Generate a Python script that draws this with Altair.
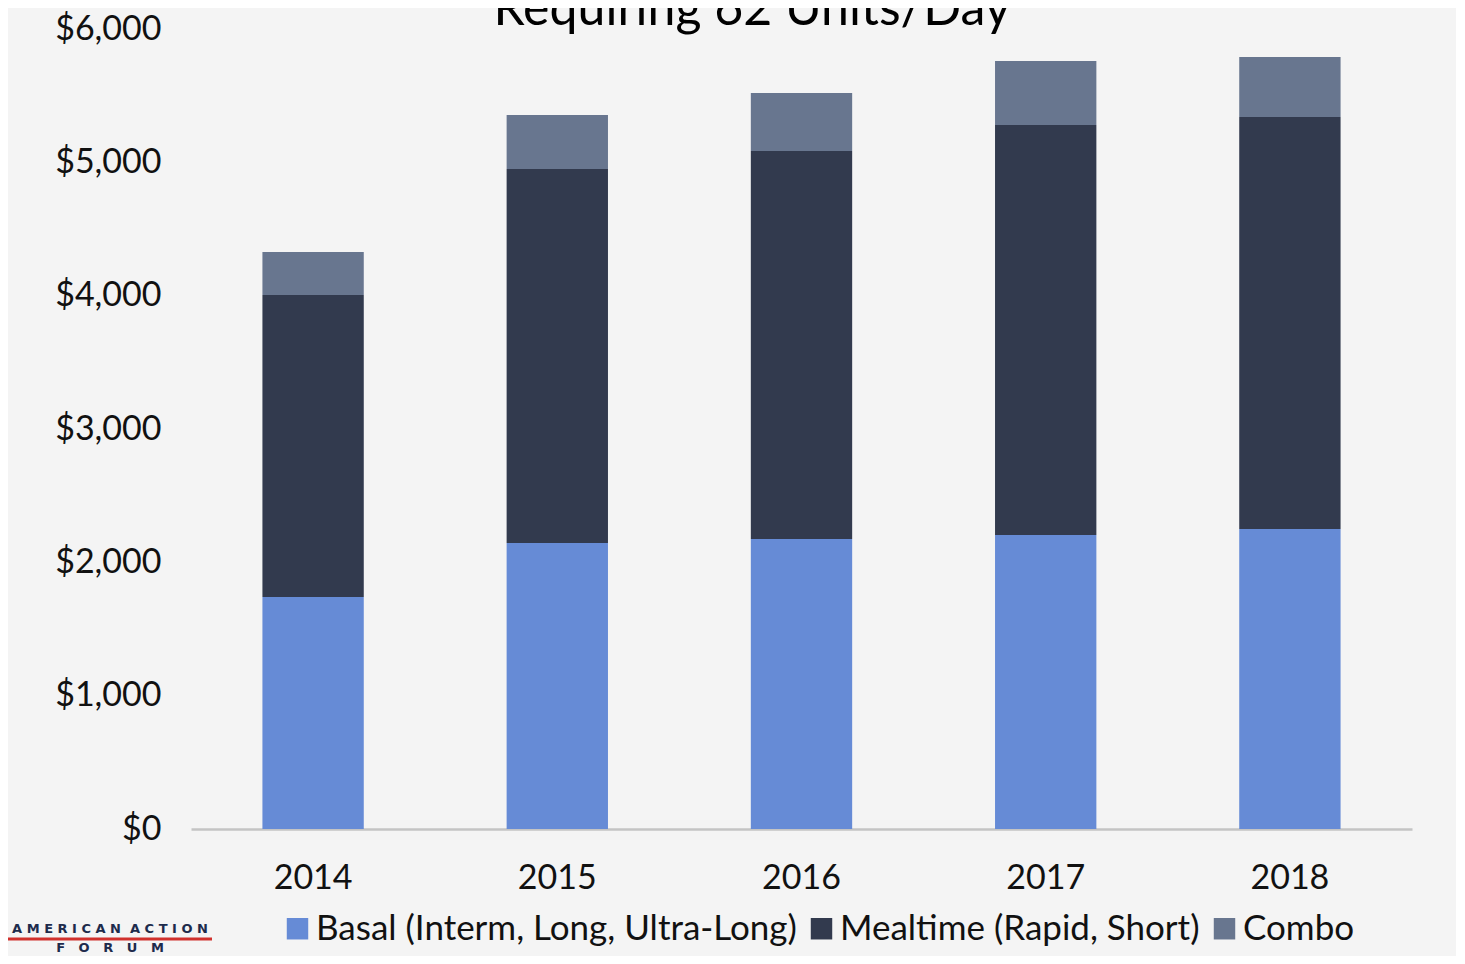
import altair as alt
import pandas as pd

years = ["2014", "2015", "2016", "2017", "2018"]
categories = ["Basal (Interm, Long, Ultra-Long)", "Mealtime (Rapid, Short)", "Combo"]
basal = [1740, 2145, 2175, 2205, 2250]
mealtime = [2265, 2805, 2910, 3075, 3090]
combo = [323, 405, 435, 480, 450]
colors = ["#668bd6", "#323a4e", "#68768f"]
y_ticks = [0, 1000, 2000, 3000, 4000, 5000, 6000]
title_text = "Requiring 62 Units/Day"
logo_line1 = "A M E R I C A N\u00a0\u00a0A C T I O N"
logo_line2 = "F\u00a0\u00a0\u00a0O\u00a0\u00a0\u00a0R\u00a0\u00a0\u00a0U\u00a0\u00a0\u00a0M"

rows = []
for i, yr in enumerate(years):
    for k, (cat, vals) in enumerate(zip(categories, [basal, mealtime, combo])):
        rows.append({"year": yr, "type": cat, "value": vals[i], "ord": k})
df = pd.DataFrame(rows)

FONT = "Lato"

bars = alt.Chart(df).mark_bar().encode(
    x=alt.X("year:N", sort=years,
            scale=alt.Scale(paddingInner=0.585, paddingOuter=0.2925),
            axis=alt.Axis(title=None, labelAngle=0, ticks=False, grid=False,
                          domain=True, domainColor="#c4c4c4", domainWidth=2.5,
                          labelPadding=32, labelFontSize=34, labelFont=FONT,
                          labelColor="#111111")),
    y=alt.Y("value:Q", stack="zero",
            scale=alt.Scale(domain=[0, 6000], nice=False),
            axis=alt.Axis(title=None, values=y_ticks, format="$,.0f", ticks=False,
                          grid=False, domain=False, labelPadding=30,
                          labelFontSize=34, labelFont=FONT, labelColor="#111111")),
    color=alt.Color("type:N",
                    scale=alt.Scale(domain=categories, range=colors),
                    legend=alt.Legend(title=None, orient="none", direction="horizontal",
                                      legendX=89, legendY=882,
                                      symbolType="square", symbolSize=460,
                                      symbolStrokeWidth=0, labelFontSize=35,
                                      labelFont=FONT, labelColor="#111111",
                                      labelLimit=0, columnPadding=7, labelOffset=1)),
    order=alt.Order("ord:Q", sort="ascending"),
)

title = alt.Chart(pd.DataFrame({"t": [title_text]})).mark_text(
    font=FONT, fontSize=50, color="#000000", align="center", baseline="alphabetic"
).encode(x=alt.value(561), y=alt.value(-4), text="t:N")

logo_top = alt.Chart(pd.DataFrame({"t": [logo_line1]})).mark_text(
    font="DejaVu Sans", fontSize=13, fontWeight="bold", color="#1d2b4c",
    align="center", baseline="middle"
).encode(x=alt.value(-81), y=alt.value(900), text="t:N")

logo_line = alt.Chart(pd.DataFrame({"a": [0]})).mark_rule(
    color="#d0312d", strokeWidth=3
).encode(x=alt.value(-183), x2=alt.value(21), y=alt.value(910))

logo_bottom = alt.Chart(pd.DataFrame({"t": [logo_line2]})).mark_text(
    font="DejaVu Sans", fontSize=13, fontWeight="bold", color="#1d2b4c",
    align="center", baseline="middle"
).encode(x=alt.value(-81), y=alt.value(919), text="t:N")

chart = alt.layer(bars, title, logo_top, logo_line, logo_bottom).properties(
    width=1221, height=800,
    autosize=alt.AutoSizeParams(type="none"),
    padding={"left": 183, "top": 21, "right": 44, "bottom": 127},
    background="#f4f4f4",
).configure_view(stroke=None)

chart.save("out.html", embed_options={"renderer": "svg", "actions": False})
